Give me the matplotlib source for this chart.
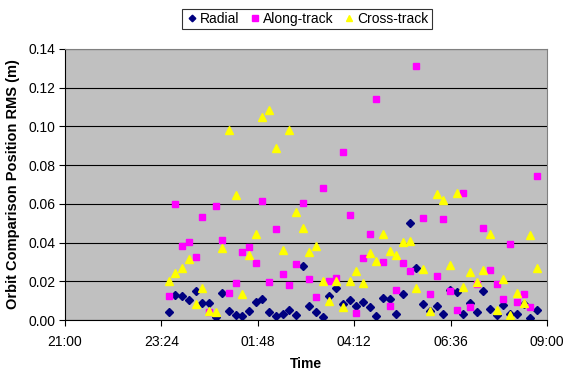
import matplotlib
matplotlib.use("Agg")
import matplotlib.pyplot as plt
from matplotlib.ticker import FormatStrFormatter

plt.rcParams['font.family'] = ['Liberation Sans', 'DejaVu Sans']

# sample times (every 10 min through the night)
times = ["23:35", "23:45", "23:55", "00:05", "00:15", "00:25", "00:35", "00:45",
         "00:55", "01:05", "01:15", "01:25", "01:35", "01:45", "01:55", "02:05",
         "02:15", "02:25", "02:35", "02:45", "02:55", "03:05", "03:15", "03:25",
         "03:35", "03:45", "03:55", "04:05", "04:15", "04:25", "04:35", "04:45",
         "04:55", "05:05", "05:15", "05:25", "05:35", "05:45", "05:55", "06:05",
         "06:15", "06:25", "06:35", "06:45", "06:55", "07:05", "07:15", "07:25",
         "07:35", "07:45", "07:55", "08:05", "08:15", "08:25", "08:35", "08:45"]

radial = [0.0040, 0.0129, 0.0122, 0.0103, 0.0152, 0.0088, 0.0088, 0.0017, 0.0139, 0.0048,
          0.0028, 0.0021, 0.0048, 0.0091, 0.0108, 0.0043, 0.0019, 0.0029, 0.0052, 0.0026,
          0.0281, 0.0070, 0.0040, 0.0014, 0.0126, 0.0167, 0.0085, 0.0103, 0.0071, 0.0091,
          0.0065, 0.0022, 0.0115, 0.0107, 0.0029, 0.0133, 0.0501, 0.0270, 0.0081, 0.0045,
          0.0071, 0.0033, 0.0155, 0.0145, 0.0033, 0.0087, 0.0043, 0.0152, 0.0059, 0.0024,
          0.0077, 0.0033, 0.0029, 0.0085, 0.0009, 0.0050]

along = [0.0124, 0.0599, 0.0382, 0.0405, 0.0327, 0.0532, 0.0040, 0.0589, 0.0413, 0.0138,
         0.0189, 0.0353, 0.0375, 0.0294, 0.0616, 0.0196, 0.0468, 0.0238, 0.0179, 0.0291,
         0.0603, 0.0214, 0.0121, 0.0684, 0.0201, 0.0219, 0.0870, 0.0544, 0.0038, 0.0322,
         0.0446, 0.1142, 0.0301, 0.0071, 0.0157, 0.0294, 0.0255, 0.1312, 0.0529, 0.0134,
         0.0227, 0.0520, 0.0152, 0.0050, 0.0654, 0.0069, 0.0186, 0.0477, 0.0258, 0.0188,
         0.0110, 0.0394, 0.0091, 0.0136, 0.0069, 0.0744]

cross = [0.0203, 0.0245, 0.0267, 0.0313, 0.0083, 0.0164, 0.0048, 0.0043, 0.0370, 0.0982,
         0.0644, 0.0134, 0.0334, 0.0443, 0.1050, 0.1085, 0.0890, 0.0363, 0.0983, 0.0556,
         0.0474, 0.0351, 0.0384, 0.0201, 0.0098, 0.0201, 0.0067, 0.0203, 0.0255, 0.0189,
         0.0344, 0.0303, 0.0444, 0.0356, 0.0336, 0.0403, 0.0406, 0.0164, 0.0262, 0.0046,
         0.0653, 0.0620, 0.0284, 0.0656, 0.0169, 0.0248, 0.0195, 0.0257, 0.0443, 0.0052,
         0.0210, 0.0026, 0.0138, 0.0088, 0.0437, 0.0270]

xtick_labels = ["21:00", "23:24", "01:48", "04:12", "06:36", "09:00"]
yticks = [0.00, 0.02, 0.04, 0.06, 0.08, 0.10, 0.12, 0.14]


def hours_after_21(s):
    # convert "HH:MM" to hours since 21:00 the evening before
    hh, mm = s.split(":")
    h = int(hh) + int(mm) / 60.0 - 21
    if h < 0:
        h += 24
    return h


x = [hours_after_21(t) for t in times]
xticks = [hours_after_21(t) for t in xtick_labels]
xticks[-1] = 12.0  # 09:00 is the right edge

fig = plt.figure(figsize=(5.63, 3.71), dpi=100)
ax = fig.add_axes([65/563, 51/371, 482/563, 271/371])
ax.set_facecolor('#C0C0C0')

ax.plot(x, radial, 'D', color='#000080', mec='#000080', ms=4.2, label='Radial')
ax.plot(x, along, 's', color='#FF00FF', mec='#FF00FF', ms=4.6, label='Along-track')
ax.plot(x, cross, '^', color='#FFFF00', mec='#FFFF00', ms=5.5, label='Cross-track')

ax.set_xlim(0, 12)
ax.set_ylim(0, 0.14)
ax.set_xticks(xticks)
ax.set_xticklabels(xtick_labels)
ax.set_yticks(yticks)
ax.yaxis.set_major_formatter(FormatStrFormatter('%.2f'))
ax.yaxis.grid(True, color='black', lw=0.8)
ax.set_axisbelow(True)

for side in ['top', 'right']:
    ax.spines[side].set_color('#808080')
ax.spines['left'].set_color('black')
ax.spines['bottom'].set_color('black')

ax.tick_params(direction='out', length=4, width=0.8, labelsize=10, pad=3)
ax.tick_params(axis='x', pad=6.5)

ax.set_xlabel('Time', fontsize=10, fontweight='bold', labelpad=6)
ax.set_ylabel('Orbit Comparison Position RMS (m)', fontsize=10.5, fontweight='bold', labelpad=6)

leg = fig.legend(loc='center', bbox_to_anchor=(307/563, 1 - 19/371), ncol=3,
                 fontsize=10, frameon=True, fancybox=False, edgecolor='black',
                 handletextpad=0.1, columnspacing=0.6, borderpad=0.25,
                 handlelength=1.0, markerscale=0.8)
leg.get_frame().set_linewidth(0.8)

fig.savefig('out.png', dpi=100)
